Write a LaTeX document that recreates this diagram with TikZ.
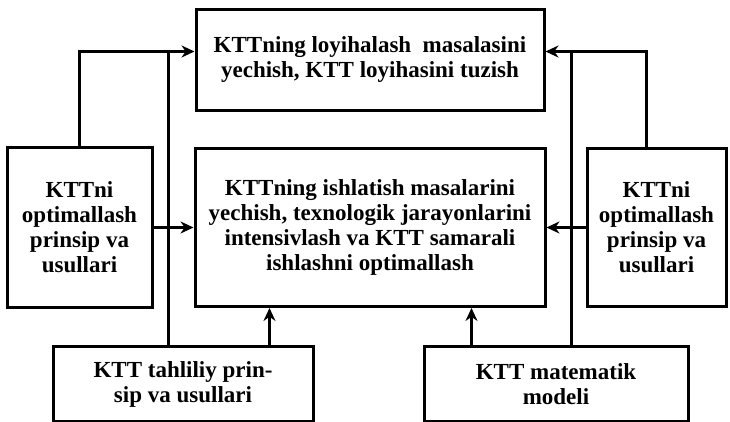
\documentclass[tikz,border=0pt]{standalone}
\usepackage{fontspec}
\setmainfont{Liberation Serif}
\usetikzlibrary{positioning,arrows.meta}
\tikzset{
  blk/.style={draw,line width=3pt,align=center,inner sep=0pt,
    font=\bfseries\fontsize{23}{25}\selectfont},
  feed/.style={-{Stealth[length=13pt,width=12pt]},line width=3pt},
  link/.style={line width=3pt},
}
\begin{document}
\begin{tikzpicture}[x=1pt,y=-1pt,node distance=37pt]
  \useasboundingbox (0,0) rectangle (730,422);
  \node[blk,minimum width=350pt,minimum height=158pt] (mid) at (370,227.5)
    {KTTning ishlatish masalarini\\yechish, texnologik jarayonlarini\\intensivlash va KTT samarali\\ishlashni optimallash};
  \node[blk,minimum width=348pt,minimum height=101pt] (top) [above=35pt of mid]
    {KTTning loyihalash\ \ masalasini\\yechish, KTT loyihasini tuzish};
  \node[blk,minimum width=145pt,minimum height=159pt] (optl) [left=40pt of mid]
    {KTTni\\optimallash\\prinsip va\\usullari};
  \node[blk,minimum width=139pt,minimum height=157pt] (optr) [right=39pt of mid]
    {KTTni\\optimallash\\prinsip va\\usullari};
  \node[blk,minimum width=260pt,minimum height=75pt] (tahlil) [below=37pt of mid,xshift=-187pt]
    {KTT tahliliy prin-\\sip va usullari};
  \node[blk,minimum width=264pt,minimum height=75pt] (model) [below=37pt of mid,xshift=186pt]
    {KTT matematik\\modeli};
  \coordinate (jl) at (168.5,51.5);
  \coordinate (jr) at (571.5,51.5);
  % into the upper box
  \draw[feed] (optl.north) |- (top.west |- jl);
  \draw[feed] ([xshift=-10pt]optr.north) |- (top.east |- jr);
  \draw[link] (jl) -- (jl |- tahlil.north);
  \draw[link] (jr) -- (jr |- model.north);
  % into the middle box
  \draw[feed] (optl) -- (optl -| mid.west);
  \draw[feed] (optr) -- (optr -| mid.east);
  \draw[feed] ([xshift=86.5pt]tahlil.north) -- ([xshift=86.5pt]tahlil.north |- mid.south);
  \draw[feed] ([xshift=-84.5pt]model.north) -- ([xshift=-84.5pt]model.north |- mid.south);
\end{tikzpicture}
\end{document}
